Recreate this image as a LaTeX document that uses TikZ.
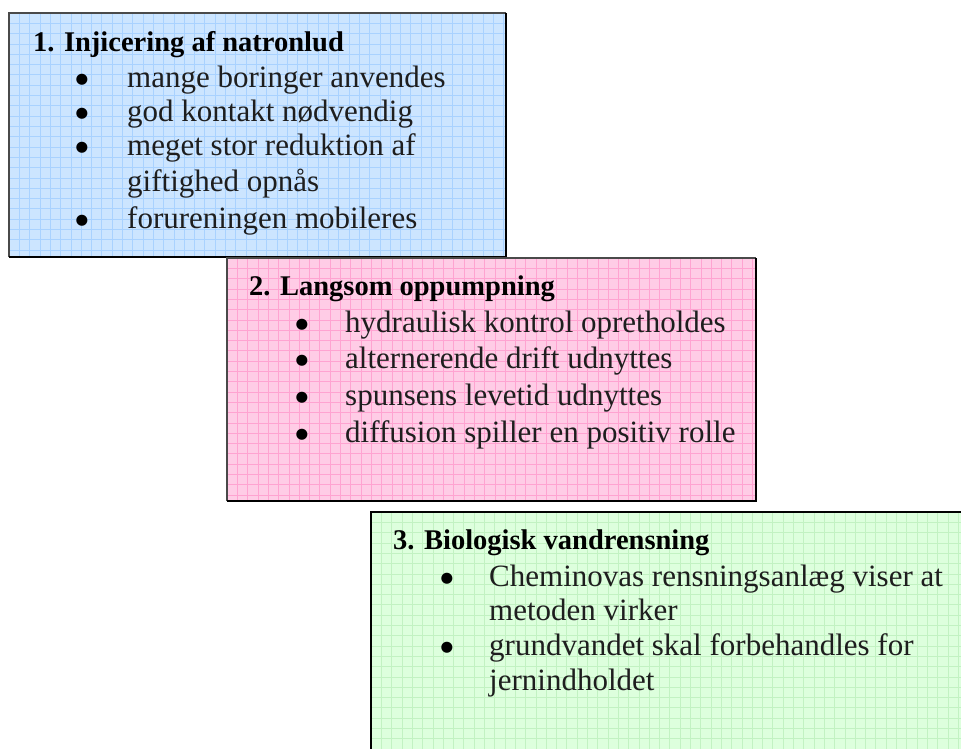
\documentclass[tikz,border=0pt]{standalone}
\usepackage{fontspec}
\setmainfont{Liberation Serif}
\newfontfamily\bulletfont{DejaVu Sans}
\definecolor{bluefill}{HTML}{CCE5FF}
\definecolor{bluegrid}{HTML}{A9D2FF}
\definecolor{pinkfill}{HTML}{FFCCE6}
\definecolor{pinkgrid}{HTML}{FFA3D1}
\definecolor{greenfill}{HTML}{DDFFDD}
\definecolor{greengrid}{HTML}{C2F2C2}
\definecolor{textgray}{HTML}{1E1E1E}
\definecolor{edgegray}{HTML}{4A4A4A}
\tikzset{
  heading/.style={anchor=base west, inner sep=0pt, font=\fontsize{28.5}{30}\selectfont\bfseries, text=black},
  itemtext/.style={anchor=base west, inner sep=0pt, font=\fontsize{31}{34}\selectfont, text=textgray},
  bul/.style={anchor=base, inner sep=0pt, font=\bulletfont\fontsize{14.5}{15}\selectfont, text=black},
  gridline/.style={line width=0.6pt},
  topleft/.style={draw=edgegray, line width=1.2pt},
  botright/.style={draw=black, line width=2pt},
}
\begin{document}
\begin{tikzpicture}[x=1pt,y=-1pt]
\useasboundingbox (0,0) rectangle (961,749);
\begin{scope}
\clip (0,0) rectangle (961,749);
% ---------- box 1 ----------
\fill[bluefill] (9,13) rectangle (506,257);
\begin{scope}
\clip (9,13) rectangle (506,257);
\foreach \gx in {9,19.3,...,510} \draw[gridline,bluegrid] (\gx,13) -- (\gx,257);
\foreach \gy in {13,23.3,...,260} \draw[gridline,bluegrid] (9,\gy) -- (506,\gy);
\end{scope}
\coordinate (b1tl) at (9,13);
\coordinate (b1tr) at (506,13);
\coordinate (b1br) at (506,257);
\coordinate (b1bl) at (9,257);
\draw[topleft] (b1bl) -- (b1tl) -- (b1tr);
\draw[botright] (b1tr) -- (b1br) -- (b1bl);
\node[heading] (h1) at (33,52) {1. Injicering af natronlud};
\node[bul] (b11) at (82,84) {●};
\node[itemtext] (t11) at (127,88) {mange boringer anvendes};
\node[bul] (b12) at (82,118) {●};
\node[itemtext] (t12) at (127,122) {god kontakt nødvendig};
\node[bul] (b13) at (82,152) {●};
\node[itemtext] (t13) at (127,156) {meget stor reduktion af};
\node[itemtext] (t13b) at (127,191) {giftighed opnås};
\node[bul] (b14) at (82,224) {●};
\node[itemtext] (t14) at (127,228) {forureningen mobileres};
% ---------- box 2 ----------
\fill[pinkfill] (227,258) rectangle (756,501);
\begin{scope}
\clip (227,258) rectangle (756,501);
\foreach \gx in {227,237.3,...,760} \draw[gridline,pinkgrid] (\gx,258) -- (\gx,501);
\foreach \gy in {258,268.3,...,505} \draw[gridline,pinkgrid] (227,\gy) -- (756,\gy);
\end{scope}
\coordinate (b2tl) at (227,258);
\coordinate (b2tr) at (756,258);
\coordinate (b2br) at (756,501);
\coordinate (b2bl) at (227,501);
\draw[topleft] (b2bl) -- (b2tl) -- (b2tr);
\draw[botright] (b2tr) -- (b2br) -- (b2bl);
\node[heading] (h2) at (249,295) {2. Langsom oppumpning};
\node[bul] (b21) at (302,328) {●};
\node[itemtext] (t21) at (345,332) {hydraulisk kontrol opretholdes};
\node[bul] (b22) at (302,364) {●};
\node[itemtext] (t22) at (345,368) {alternerende drift udnyttes};
\node[bul] (b23) at (302,401) {●};
\node[itemtext] (t23) at (345,405) {spunsens levetid udnyttes};
\node[bul] (b24) at (302,438) {●};
\node[itemtext] (t24) at (345,442) {diffusion spiller en positiv rolle};
% ---------- box 3 ----------
\fill[greenfill] (371,512) rectangle (970,760);
\begin{scope}
\clip (371,512) rectangle (970,760);
\foreach \gx in {371,381.3,...,970} \draw[gridline,greengrid] (\gx,512) -- (\gx,760);
\foreach \gy in {512,522.3,...,760} \draw[gridline,greengrid] (371,\gy) -- (970,\gy);
\end{scope}
\coordinate (b3tl) at (371,512);
\coordinate (b3tr) at (970,512);
\coordinate (b3bl) at (371,760);
\draw[draw=black, line width=2pt] (b3bl) -- (b3tl) -- (b3tr);
\node[heading] (h3) at (393,549) {3. Biologisk vandrensning};
\node[bul] (b31) at (447,582) {●};
\node[itemtext] (t31) at (489,586) {Cheminovas rensningsanlæg viser at};
\node[itemtext] (t31b) at (489,620) {metoden virker};
\node[bul] (b32) at (447,651) {●};
\node[itemtext] (t32) at (489,655) {grundvandet skal forbehandles for};
\node[itemtext] (t32b) at (489,690) {jernindholdet};
\end{scope}
\end{tikzpicture}
\end{document}
